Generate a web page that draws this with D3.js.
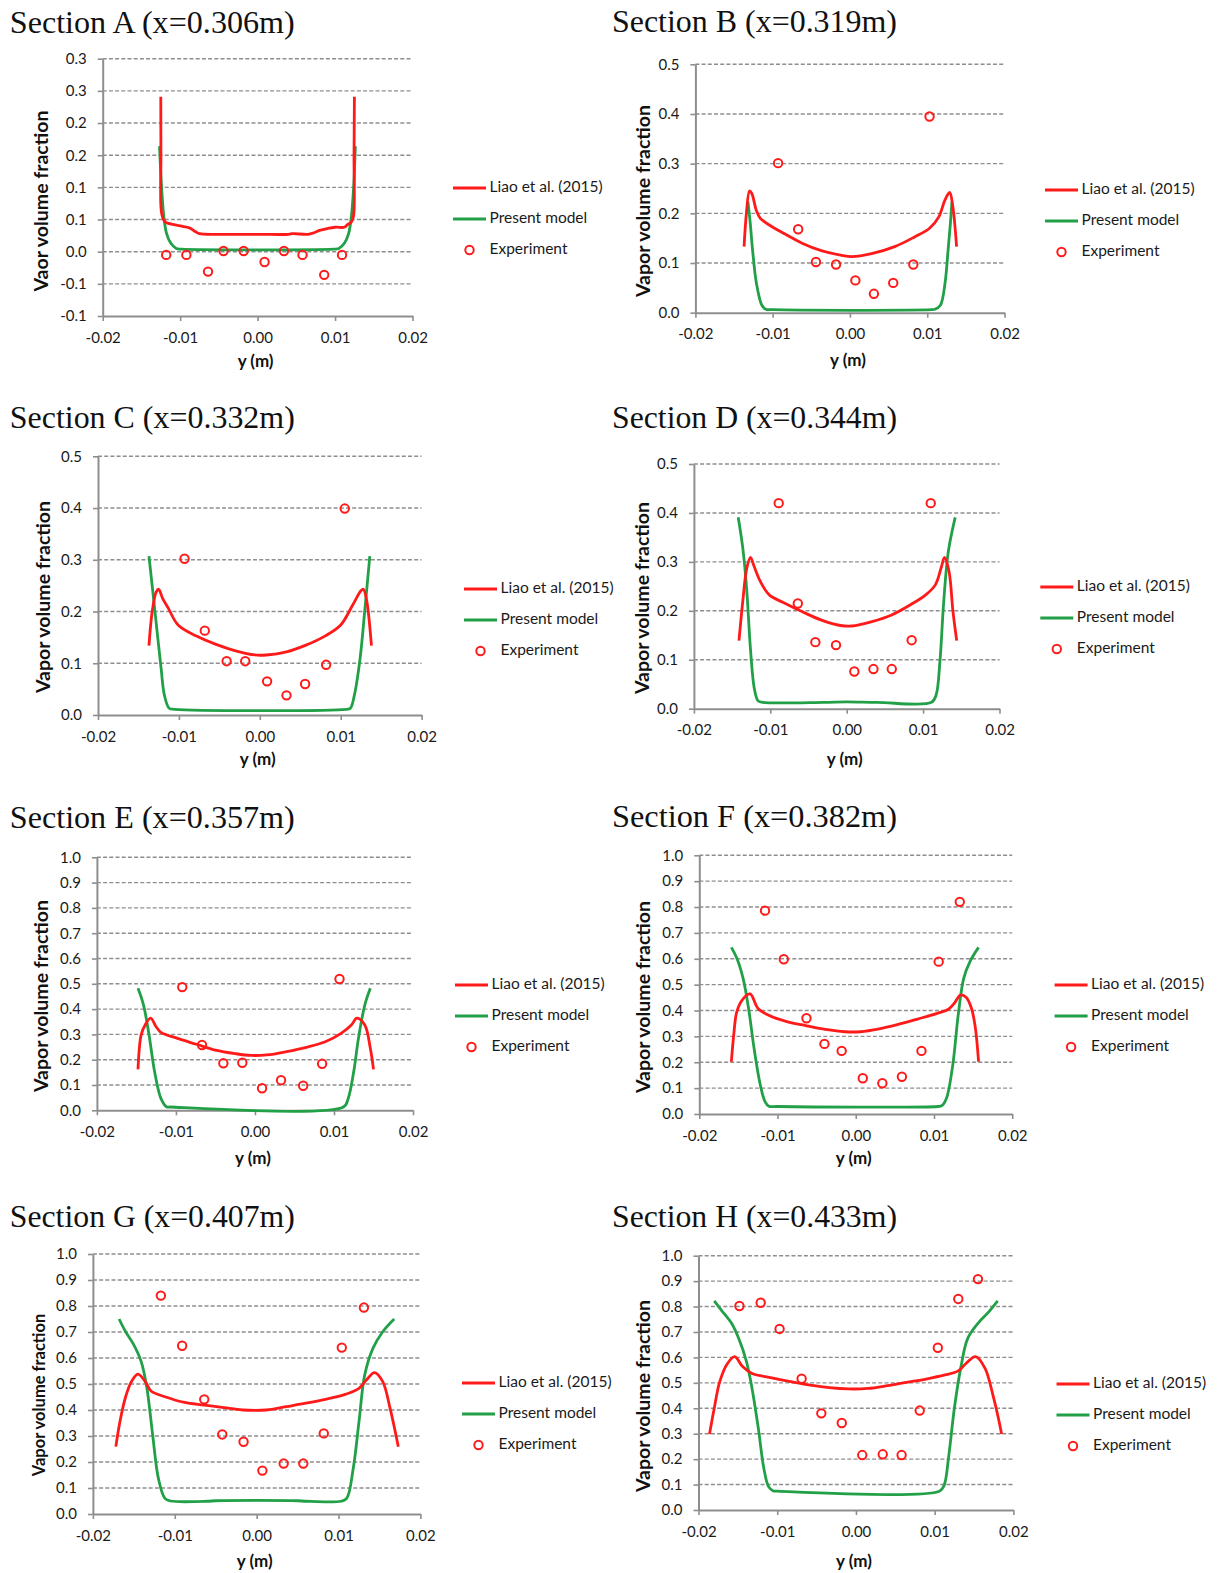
<!DOCTYPE html>
<html>
<head>
<meta charset="utf-8">
<script src="https://cdn.jsdelivr.net/npm/d3@7"></script>
<style>
  html, body { margin: 0; padding: 0; background: #fff; }
  svg { display: block; }
</style>
</head>
<body>
<svg id="fig" width="1220" height="1573"></svg>
<script>
// ---- Text ----
const sectionTitles = [
  "Section A (x=0.306m)", "Section B (x=0.319m)",
  "Section C (x=0.332m)", "Section D (x=0.344m)",
  "Section E (x=0.357m)", "Section F (x=0.382m)",
  "Section G (x=0.407m)", "Section H (x=0.433m)"
];
const yAxisTitles = [
  "Vaor volume fraction", "Vapor volume fraction",
  "Vapor volume fraction", "Vapor volume fraction",
  "Vapor volume fraction", "Vapor volume fraction",
  "Vapor volume fraction", "Vapor volume fraction"
];
const xAxisTitle = "y (m)";
const seriesNames = ["Liao et al. (2015)", "Present model", "Experiment"];

// ---- Ticks ----
const xTickValues = [-0.02, -0.01, 0, 0.01, 0.02];
const xTickLabels = ["-0.02", "-0.01", "0.00", "0.01", "0.02"];
const yTicksA = [-0.1, -0.05, 0, 0.05, 0.1, 0.15, 0.2, 0.25, 0.3];
const yTickLabelsA = ["-0.1", "-0.1", "0.0", "0.1", "0.1", "0.2", "0.2", "0.3", "0.3"];
const yTicksHalf = [0, 0.1, 0.2, 0.3, 0.4, 0.5];
const yTickLabelsHalf = ["0.0", "0.1", "0.2", "0.3", "0.4", "0.5"];
const yTicksFull = [0, 0.1, 0.2, 0.3, 0.4, 0.5, 0.6, 0.7, 0.8, 0.9, 1.0];
const yTickLabelsFull = ["0.0", "0.1", "0.2", "0.3", "0.4", "0.5", "0.6", "0.7", "0.8", "0.9", "1.0"];
const yDomainA = [-0.1, 0.3];
const yDomainHalf = [0, 0.5];
const yDomainFull = [0, 1];

// ---- Section A: [y (m), vapor volume fraction] ----
const liaoA = [[-0.0125,0.241],[-0.01248,0.15],[-0.0124,0.06],[-0.0120,0.047],[-0.0115,0.044],[-0.0100,0.040],[-0.0088,0.037],[-0.0080,0.031],[-0.0075,0.028],[-0.0050,0.027],[0.0000,0.027],[0.0040,0.027],[0.0045,0.028],[0.0065,0.027],[0.0072,0.029],[0.0080,0.033],[0.0090,0.036],[0.0100,0.038],[0.0112,0.038],[0.0116,0.042],[0.0121,0.046],[0.01238,0.055],[0.01245,0.15],[0.0125,0.241]];
const presentA = [[-0.01266,0.164],[-0.0124,0.100],[-0.0121,0.054],[-0.01175,0.028],[-0.0112,0.013],[-0.0105,0.005],[-0.0098,0.004],[0.0098,0.004],[0.0105,0.005],[0.0112,0.013],[0.01175,0.028],[0.0121,0.054],[0.0124,0.100],[0.01262,0.164]];
const expA = [[-0.0118,-0.005],[-0.0092,-0.005],[-0.0064,-0.031],[-0.0044,0.001],[-0.0018,0.001],[0.0009,-0.016],[0.0034,0.001],[0.0058,-0.005],[0.0086,-0.036],[0.0109,-0.005]];

// ---- Section B ----
const liaoB = [[-0.0137,0.133],[-0.0134,0.200],[-0.0130,0.245],[-0.0127,0.240],[-0.0121,0.205],[-0.0116,0.190],[-0.0106,0.178],[-0.0086,0.160],[-0.0062,0.140],[-0.0037,0.125],[-0.0012,0.116],[0.0003,0.113],[0.0028,0.119],[0.0058,0.133],[0.0083,0.152],[0.0103,0.170],[0.0115,0.193],[0.0123,0.227],[0.0129,0.242],[0.0133,0.215],[0.0138,0.133]];
const presentB = [[-0.0132,0.223],[-0.0129,0.180],[-0.0126,0.126],[-0.0121,0.059],[-0.0114,0.015],[-0.0109,0.007],[-0.0100,0.006],[0.0105,0.006],[0.0110,0.007],[0.0117,0.015],[0.0123,0.059],[0.0127,0.126],[0.0130,0.180],[0.0132,0.223]];
const expB = [[-0.0093,0.301],[-0.0067,0.168],[-0.0044,0.102],[-0.0018,0.097],[0.0007,0.065],[0.0031,0.038],[0.0056,0.060],[0.0082,0.097],[0.0103,0.395]];

// ---- Section C ----
const liaoC = [[-0.0137,0.134],[-0.0133,0.200],[-0.0128,0.238],[-0.0125,0.243],[-0.0120,0.225],[-0.0113,0.206],[-0.0101,0.174],[-0.0079,0.153],[-0.0055,0.137],[-0.0030,0.124],[-0.0006,0.116],[0.0008,0.116],[0.0033,0.122],[0.0057,0.135],[0.0081,0.153],[0.0100,0.174],[0.0115,0.213],[0.0125,0.240],[0.0128,0.243],[0.0132,0.222],[0.0138,0.134]];
const presentC = [[-0.0137,0.307],[-0.0130,0.206],[-0.0122,0.090],[-0.0118,0.039],[-0.0112,0.013],[-0.0105,0.011],[0.0107,0.011],[0.0112,0.013],[0.0117,0.039],[0.0124,0.110],[0.0130,0.206],[0.0136,0.307]];
const expC = [[-0.0093,0.302],[-0.0068,0.163],[-0.0041,0.104],[-0.0018,0.104],[0.0009,0.065],[0.0033,0.038],[0.0056,0.060],[0.0082,0.097],[0.0105,0.399]];

// ---- Section D ----
const liaoD = [[-0.0141,0.139],[-0.0136,0.220],[-0.0131,0.285],[-0.0126,0.309],[-0.0121,0.290],[-0.0113,0.260],[-0.0101,0.232],[-0.0083,0.217],[-0.0058,0.198],[-0.0033,0.181],[-0.0008,0.170],[0.0007,0.169],[0.0033,0.178],[0.0058,0.191],[0.0083,0.212],[0.0103,0.232],[0.0116,0.253],[0.0124,0.290],[0.0128,0.309],[0.0134,0.280],[0.0139,0.200],[0.0144,0.139]];
const presentD = [[-0.0142,0.391],[-0.0136,0.328],[-0.0131,0.246],[-0.0126,0.123],[-0.0121,0.042],[-0.0116,0.016],[-0.0110,0.013],[-0.0030,0.013],[0.0000,0.014],[0.0040,0.013],[0.0111,0.013],[0.0117,0.028],[0.0122,0.096],[0.0127,0.219],[0.0133,0.321],[0.0142,0.391]];
const expD = [[-0.0089,0.420],[-0.0064,0.215],[-0.0041,0.136],[-0.0014,0.130],[0.0010,0.076],[0.0035,0.081],[0.0059,0.081],[0.0085,0.140],[0.0110,0.420]];

// ---- Section E ----
const liaoE = [[-0.0148,0.162],[-0.0144,0.298],[-0.0139,0.337],[-0.0132,0.364],[-0.0125,0.330],[-0.0119,0.308],[-0.0099,0.285],[-0.0074,0.261],[-0.0050,0.238],[-0.0025,0.224],[-0.0005,0.217],[0.0015,0.219],[0.0040,0.232],[0.0065,0.249],[0.0089,0.271],[0.0109,0.304],[0.0122,0.337],[0.0129,0.364],[0.0139,0.337],[0.0146,0.245],[0.0150,0.162]];
const presentE = [[-0.0148,0.482],[-0.0141,0.416],[-0.0134,0.298],[-0.0127,0.153],[-0.0119,0.047],[-0.0112,0.014],[-0.0107,0.013],[0.0112,0.013],[0.0118,0.047],[0.0125,0.153],[0.0131,0.285],[0.0139,0.416],[0.0146,0.482]];
const expE = [[-0.0092,0.487],[-0.0067,0.258],[-0.0040,0.186],[-0.0016,0.188],[0.0009,0.087],[0.0033,0.119],[0.0061,0.097],[0.0085,0.184],[0.0107,0.519]];

// ---- Section F ----
const liaoF = [[-0.0159,0.202],[-0.0156,0.305],[-0.0152,0.396],[-0.0144,0.445],[-0.0135,0.464],[-0.0125,0.408],[-0.0112,0.383],[-0.0088,0.357],[-0.0063,0.341],[-0.0039,0.327],[-0.0014,0.318],[0.0006,0.318],[0.0030,0.329],[0.0055,0.347],[0.0079,0.367],[0.0104,0.389],[0.0119,0.406],[0.0126,0.428],[0.0134,0.460],[0.0141,0.451],[0.0148,0.408],[0.0153,0.331],[0.0157,0.202]];
const presentF = [[-0.0159,0.644],[-0.0152,0.602],[-0.0144,0.524],[-0.0137,0.408],[-0.0130,0.254],[-0.0122,0.112],[-0.0116,0.048],[-0.0111,0.030],[-0.0100,0.029],[0.0105,0.029],[0.0110,0.032],[0.0116,0.061],[0.0124,0.189],[0.0131,0.383],[0.0138,0.524],[0.0146,0.589],[0.0157,0.644]];
const expF = [[-0.0116,0.786],[-0.0092,0.598],[-0.0063,0.370],[-0.0040,0.271],[-0.0018,0.244],[0.0009,0.138],[0.0034,0.119],[0.0059,0.144],[0.0084,0.244],[0.0106,0.589],[0.0133,0.820]];

// ---- Section G ----
const liaoG = [[-0.0172,0.259],[-0.0167,0.355],[-0.0160,0.451],[-0.0153,0.509],[-0.0145,0.538],[-0.0136,0.509],[-0.0129,0.473],[-0.0112,0.451],[-0.0088,0.429],[-0.0064,0.419],[-0.0040,0.409],[-0.0017,0.400],[0.0012,0.400],[0.0036,0.413],[0.0060,0.426],[0.0084,0.441],[0.0108,0.460],[0.0125,0.483],[0.0134,0.515],[0.0144,0.544],[0.0154,0.509],[0.0163,0.406],[0.0173,0.259]];
const presentG = [[-0.0168,0.750],[-0.0160,0.701],[-0.0151,0.656],[-0.0141,0.586],[-0.0134,0.483],[-0.0127,0.304],[-0.0120,0.137],[-0.0112,0.060],[-0.0105,0.050],[-0.0060,0.049],[-0.0050,0.051],[0.0050,0.051],[0.0060,0.049],[0.0103,0.049],[0.0110,0.060],[0.0118,0.176],[0.0125,0.355],[0.0132,0.535],[0.0142,0.637],[0.0154,0.701],[0.0168,0.750]];
const expG = [[-0.0117,0.840],[-0.0091,0.647],[-0.0064,0.441],[-0.0042,0.306],[-0.0016,0.278],[0.0007,0.167],[0.0033,0.194],[0.0057,0.194],[0.0082,0.310],[0.0104,0.640],[0.0131,0.794]];

// ---- Section H ----
const liaoH = [[-0.0186,0.299],[-0.0180,0.400],[-0.0173,0.505],[-0.0163,0.577],[-0.0154,0.603],[-0.0144,0.564],[-0.0132,0.537],[-0.0107,0.520],[-0.0083,0.505],[-0.0058,0.491],[-0.0034,0.481],[-0.0009,0.476],[0.0015,0.478],[0.0040,0.489],[0.0064,0.502],[0.0089,0.515],[0.0113,0.531],[0.0130,0.547],[0.0140,0.577],[0.0152,0.603],[0.0164,0.557],[0.0174,0.452],[0.0181,0.360],[0.0185,0.299]];
const presentH = [[-0.0180,0.822],[-0.0171,0.786],[-0.0158,0.734],[-0.0149,0.675],[-0.0139,0.583],[-0.0132,0.478],[-0.0124,0.321],[-0.0117,0.164],[-0.0111,0.092],[-0.0105,0.075],[-0.0100,0.074],[0.0106,0.074],[0.0112,0.097],[0.0118,0.216],[0.0125,0.400],[0.0133,0.557],[0.0142,0.675],[0.0155,0.734],[0.0169,0.780],[0.0180,0.822]];
const expH = [[-0.0148,0.802],[-0.0121,0.815],[-0.0097,0.712],[-0.0069,0.516],[-0.0044,0.380],[-0.0018,0.342],[0.0008,0.216],[0.0034,0.219],[0.0058,0.216],[0.0081,0.391],[0.0104,0.638],[0.0130,0.830],[0.0155,0.908]];

const liaoSeries = [liaoA, liaoB, liaoC, liaoD, liaoE, liaoF, liaoG, liaoH];
const presentSeries = [presentA, presentB, presentC, presentD, presentE, presentF, presentG, presentH];
const expSeries = [expA, expB, expC, expD, expE, expF, expG, expH];
const yDomains = [yDomainA, yDomainHalf, yDomainHalf, yDomainHalf, yDomainFull, yDomainFull, yDomainFull, yDomainFull];
const yTickSets = [yTicksA, yTicksHalf, yTicksHalf, yTicksHalf, yTicksFull, yTicksFull, yTicksFull, yTicksFull];
const yTickLabelSets = [yTickLabelsA, yTickLabelsHalf, yTickLabelsHalf, yTickLabelsHalf, yTickLabelsFull, yTickLabelsFull, yTickLabelsFull, yTickLabelsFull];

// ---- Layout (pixel boxes for each panel) ----
// plot: [left, right, top, bottom]; ylab: [cx, cy, font size]; legend: [line start x, first row y]
const layout = [
  { plot: [102.7, 412.5, 58.7, 316],      title: [9.8, 33],    ylab: [43, 201, 19.5],    xlabDy: 47, legend: [453, 188] },
  { plot: [695.4, 1004.5, 64.3, 312.7],   title: [612, 32],    ylab: [644.6, 201, 19.5], xlabDy: 49, legend: [1045, 190] },
  { plot: [98, 421.6, 456.3, 715],        title: [9.8, 428],   ylab: [45, 597, 19.5],    xlabDy: 46, legend: [464, 589] },
  { plot: [693.9, 999.5, 464, 708.7],     title: [612, 428],   ylab: [643.9, 598, 19.5], xlabDy: 52, legend: [1040.3, 587] },
  { plot: [96.9, 413, 857.3, 1110.3],     title: [9.8, 828],   ylab: [43, 996, 19.5],    xlabDy: 49, legend: [455, 985] },
  { plot: [699.3, 1012.2, 855.3, 1114],   title: [612, 827],   ylab: [645.4, 997, 19.5], xlabDy: 46, legend: [1054.6, 985] },
  { plot: [92.9, 420.4, 1254, 1514],      title: [9.8, 1227],  ylab: [41, 1395, 16.5],   xlabDy: 49, legend: [462, 1383] },
  { plot: [698.5, 1013.4, 1255.7, 1510],  title: [612, 1227],  ylab: [645.4, 1396, 19.5], xlabDy: 53, legend: [1056.5, 1384] }
];

const RED = "#ff1a1a";
const GREEN = "#21a048";
const GRID = "#8e8e8e";
const AXIS = "#8e8e8e";
const SANS = "Lato, 'Open Sans', sans-serif";
const SERIF = "'Liberation Serif', 'Times New Roman', serif";
const MARK_R = 4.2;

const svg = d3.select("#fig");
svg.append("rect").attr("width", 1220).attr("height", 1573).attr("fill", "#fff");

layout.forEach((L, i) => {
  const [x0, x1, y0, y1] = L.plot;
  const x = d3.scaleLinear().domain([-0.02, 0.02]).range([x0, x1]);
  const y = d3.scaleLinear().domain(yDomains[i]).range([y1, y0]);
  const g = svg.append("g");

  // Panel title
  g.append("text")
    .attr("x", L.title[0]).attr("y", L.title[1])
    .attr("font-family", SERIF).attr("font-size", 31)
    .attr("fill", "#111")
    .attr("textLength", 285).attr("lengthAdjust", "spacingAndGlyphs")
    .text(sectionTitles[i]);

  // Dashed horizontal gridlines
  const ticks = yTickSets[i];
  g.append("g").selectAll("line")
    .data(ticks.slice(1))
    .join("line")
    .attr("x1", x0).attr("x2", x1)
    .attr("y1", d => y(d)).attr("y2", d => y(d))
    .attr("stroke", GRID).attr("stroke-width", 1.4)
    .attr("stroke-dasharray", "4,2.2");

  // Y axis
  const yAxis = d3.axisLeft(y)
    .tickValues(ticks)
    .tickFormat((d, k) => yTickLabelSets[i][k])
    .tickSize(5).tickSizeOuter(0).tickPadding(11);
  const ya = g.append("g").attr("transform", `translate(${x0},0)`).call(yAxis);

  // X axis
  const xAxis = d3.axisBottom(x)
    .tickValues(xTickValues)
    .tickFormat((d, k) => xTickLabels[k])
    .tickSize(5).tickSizeOuter(0).tickPadding(11);
  const xa = g.append("g").attr("transform", `translate(0,${y1})`).call(xAxis);

  [ya, xa].forEach(a => {
    a.select(".domain").attr("stroke", AXIS).attr("stroke-width", 2);
    a.selectAll(".tick line").attr("stroke", AXIS).attr("stroke-width", 1.6);
    a.selectAll(".tick text")
      .attr("font-family", SANS).attr("font-size", 15).attr("fill", "#1a1a1a");
  });

  // Axis titles
  g.append("text")
    .attr("transform", `translate(${L.ylab[0]},${L.ylab[1]}) rotate(-90)`)
    .attr("text-anchor", "middle").attr("dominant-baseline", "middle")
    .attr("font-family", SANS).attr("font-weight", 700).attr("font-size", L.ylab[2])
    .attr("fill", "#111")
    .text(yAxisTitles[i]);
  g.append("text")
    .attr("x", (x0 + x1) / 2 - 2).attr("y", y1 + L.xlabDy)
    .attr("text-anchor", "middle").attr("dominant-baseline", "middle")
    .attr("font-family", SANS).attr("font-weight", 700).attr("font-size", 17)
    .attr("fill", "#111")
    .text(xAxisTitle);

  // Curves
  const line = d3.line()
    .x(d => x(d[0])).y(d => y(d[1]))
    .curve(d3.curveCatmullRom.alpha(0.5));
  g.append("path").datum(presentSeries[i])
    .attr("d", line).attr("fill", "none")
    .attr("stroke", GREEN).attr("stroke-width", 2.8)
    .attr("stroke-linejoin", "round");
  g.append("path").datum(liaoSeries[i])
    .attr("d", line).attr("fill", "none")
    .attr("stroke", RED).attr("stroke-width", 2.8)
    .attr("stroke-linejoin", "round");

  // Experimental points
  g.append("g").selectAll("circle")
    .data(expSeries[i])
    .join("circle")
    .attr("cx", d => x(d[0])).attr("cy", d => y(d[1]))
    .attr("r", MARK_R)
    .attr("fill", "none").attr("stroke", RED).attr("stroke-width", 2);

  // Legend
  const [lx, ly] = L.legend;
  const rowGap = 31;
  const lineLen = 33;
  const lg = g.append("g");
  const colors = [RED, GREEN];
  seriesNames.forEach((name, k) => {
    const ry = ly + k * rowGap;
    if (k < 2) {
      lg.append("line")
        .attr("x1", lx).attr("x2", lx + lineLen).attr("y1", ry).attr("y2", ry)
        .attr("stroke", colors[k]).attr("stroke-width", 3);
    } else {
      lg.append("circle")
        .attr("cx", lx + lineLen / 2).attr("cy", ry).attr("r", MARK_R)
        .attr("fill", "none").attr("stroke", RED).attr("stroke-width", 2);
    }
    lg.append("text")
      .attr("x", lx + lineLen + 3.5).attr("y", ry)
      .attr("dominant-baseline", "middle")
      .attr("font-family", SANS).attr("font-size", 15.5).attr("fill", "#1a1a1a")
      .text(name);
  });
});
</script>
</body>
</html>
